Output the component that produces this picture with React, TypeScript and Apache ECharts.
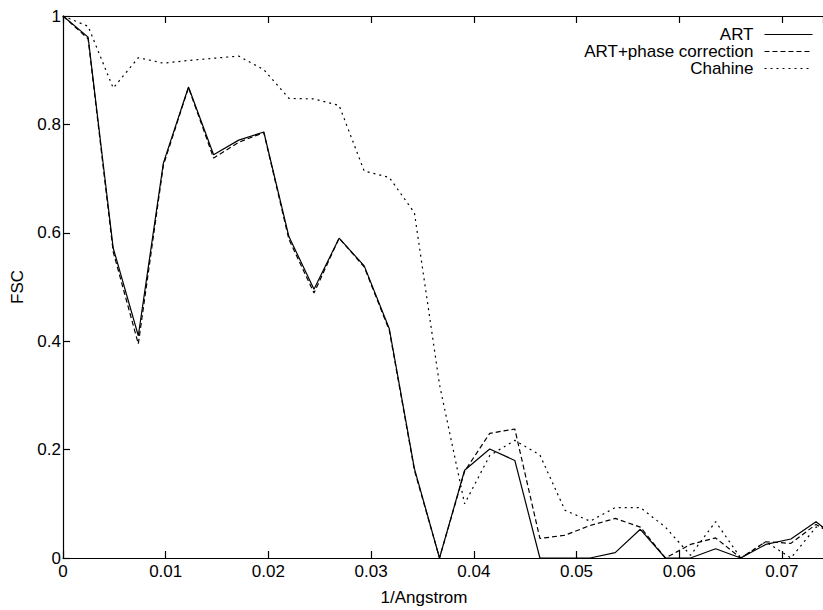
import React, { useEffect, useRef } from 'react';
import * as echarts from 'echarts';

// spatial frequency (1/Angstrom)
const freq = [
  0, 0.002444, 0.004888, 0.007332, 0.009776, 0.01222, 0.014664, 0.017108,
  0.019552, 0.021996, 0.02444, 0.026884, 0.029328, 0.031772, 0.034216, 0.03666,
  0.039104, 0.041548, 0.043992, 0.046436, 0.04888, 0.051324, 0.053768, 0.056212,
  0.058656, 0.0611, 0.063544, 0.065988, 0.068432, 0.070876, 0.07332, 0.075764,
];

const artFsc = [
  1.0, 0.961, 0.572, 0.41, 0.729, 0.869, 0.744, 0.771, 0.786, 0.593, 0.496, 0.59,
  0.539, 0.423, 0.165, 0, 0.162, 0.201, 0.18, 0, 0, 0, 0.01, 0.053, 0, 0, 0.017,
  0, 0.025, 0.035, 0.067, 0.03,
];

const artPhaseFsc = [
  1.0, 0.958, 0.565, 0.395, 0.725, 0.868, 0.738, 0.767, 0.785, 0.588, 0.489, 0.59,
  0.537, 0.42, 0.162, 0, 0.16, 0.23, 0.238, 0.036, 0.042, 0.06, 0.073, 0.057, 0,
  0.025, 0.037, 0, 0.03, 0.027, 0.062, 0.035,
];

const chahineFsc = [
  1.0, 0.981, 0.867, 0.923, 0.913, 0.918, 0.922, 0.926, 0.901, 0.848, 0.847, 0.835,
  0.714, 0.702, 0.637, 0.32, 0.1, 0.189, 0.217, 0.19, 0.088, 0.068, 0.093, 0.093,
  0.057, 0.005, 0.067, 0, 0.03, 0, 0.057, 0.06,
];

const seriesNames = ['ART', 'ART+phase correction', 'Chahine'];
const xTitle = '1/Angstrom';
const yTitle = 'FSC';

const FONT = '"Liberation Sans", Arial, Helvetica, sans-serif';

export default function App() {
  const ref = useRef<HTMLDivElement>(null);

  useEffect(() => {
    if (!ref.current) return;
    const chart = echarts.init(ref.current, undefined, { renderer: 'svg' });

    const pair = (ys: number[]) => freq.map((x, i) => [x, ys[i]]);
    const dashTypes: any[] = ['solid', [5, 3], [2, 4]];
    const datasets = [artFsc, artPhaseFsc, chahineFsc];

    const legendTops = [26, 43, 60];

    const axisCommon = {
      type: 'value',
      min: 0,
      splitLine: { show: false },
      axisLine: { show: true, onZero: false, lineStyle: { color: '#000', width: 1.2 } },
      axisTick: { show: true, inside: true, length: 7, lineStyle: { color: '#000', width: 1.2 } },
      minorTick: { show: false },
    };

    chart.setOption({
      animation: false,
      backgroundColor: '#fff',
      textStyle: { fontFamily: FONT, color: '#000' },
      grid: {
        left: 63,
        top: 16,
        right: 0,
        bottom: 52,
        containLabel: false,
        outerBoundsMode: 'none',
      },
      xAxis: [
        {
          ...axisCommon,
          position: 'bottom',
          max: 0.074,
          interval: 0.01,
          axisLabel: {
            show: true,
            margin: 5,
            fontSize: 17,
            fontFamily: FONT,
            color: '#000',
            showMaxLabel: false,
          },
        },
        {
          ...axisCommon,
          position: 'top',
          max: 0.074,
          interval: 0.01,
          axisLabel: { show: false },
        },
      ],
      yAxis: {
        ...axisCommon,
        max: 1,
        interval: 0.2,
        axisLabel: {
          show: true,
          margin: 2,
          fontSize: 17,
          fontFamily: FONT,
          color: '#000',
        },
        name: yTitle,
        nameLocation: 'middle',
        nameGap: 36,
        nameRotate: 90,
        nameTextStyle: { fontSize: 17, fontFamily: FONT, color: '#000' },
      },
      legend: seriesNames.map((n, i) => ({
        data: [n],
        orient: 'vertical',
        right: 10,
        top: legendTops[i],
        align: 'right',
        padding: 0,
        itemWidth: 48,
        itemHeight: 15,
        selectedMode: false,
        itemStyle: { opacity: 0, borderWidth: 0 },
        textStyle: {
          fontSize: 17,
          lineHeight: 15,
          fontFamily: FONT,
          color: '#000',
          padding: [0, 6, 0, 0],
        },
        lineStyle: { width: 1 },
      })),
      graphic: [
        {
          type: 'text',
          x: 424,
          y: 597,
          style: {
            text: xTitle,
            fontSize: 17,
            fontFamily: FONT,
            fill: '#000',
            align: 'center',
            verticalAlign: 'middle',
          },
        },
      ],
      series: seriesNames.map((n, i) => ({
        name: n,
        type: 'line',
        xAxisIndex: 0,
        yAxisIndex: 0,
        symbol: 'none',
        showSymbol: false,
        clip: true,
        data: pair(datasets[i]),
        itemStyle: { color: '#000' },
        lineStyle: { color: '#000', width: 1.2, type: dashTypes[i] },
      })),
    });

    return () => chart.dispose();
  }, []);

  return (
    <div
      ref={ref}
      style={{ position: 'fixed', left: 0, top: 0, width: 823, height: 610, background: '#fff' }}
    />
  );
}
